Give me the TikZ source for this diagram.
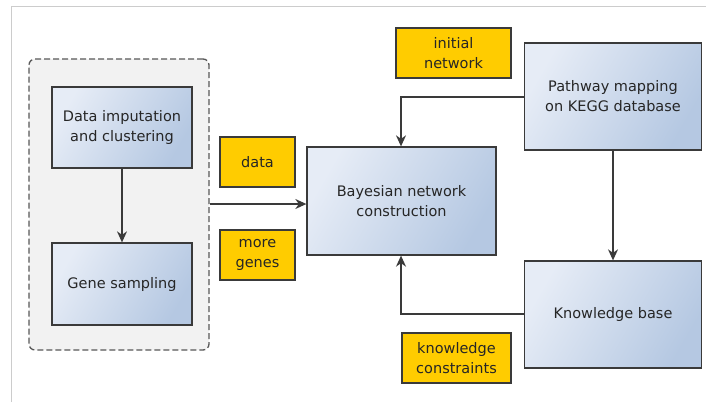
\documentclass[tikz,border=0pt]{standalone}
\usepackage{fontspec}
\setmainfont{DejaVu Sans}
\usetikzlibrary{arrows.meta,positioning}
\definecolor{boxlight}{HTML}{E6ECF6}
\definecolor{boxdark}{HTML}{B5C8E2}
\definecolor{ylw}{HTML}{FFCC00}
\definecolor{edge}{HTML}{3A3A3A}
\tikzset{
  procbox/.style={draw=edge, line width=1.3pt, left color=boxlight, right color=boxdark, shading angle=60, align=center, font=\fontsize{14.5}{20}\selectfont, text=black!85, inner sep=0pt},
  labelbox/.style={draw=edge, line width=1.3pt, fill=ylw, align=center, font=\fontsize{14.5}{20}\selectfont, text=black!85, inner sep=0pt},
  conn/.style={draw=edge, line width=1.3pt, -{Stealth[length=11pt,width=10pt,inset=3.5pt]}},
}
\begin{document}
\begin{tikzpicture}[x=1pt,y=-1pt]
\useasboundingbox (0,0) rectangle (706,402);
\fill[white] (0,0) rectangle (706,402);
\draw[gray!40, line width=1pt] (11,402) -- (11,6) -- (706,6);
% container
\node[draw=edge!85, dash pattern=on 6pt off 3pt, line width=1.3pt, fill=black!5, rounded corners=6pt, minimum width=180pt, minimum height=291pt, inner sep=0pt] (grp) at (119,204.5) {};
\node[procbox, minimum width=140pt, minimum height=81pt] (imp) at (122,127.5) {Data imputation\\ and clustering};
\node[procbox, minimum width=140pt, minimum height=82pt] (gene) at (122,284) {Gene sampling};
\node[labelbox, minimum width=75pt, minimum height=50pt] (data) at (257.5,162) {data};
\node[labelbox, minimum width=75pt, minimum height=50pt] (more) at (257.5,255) {more\\ genes};
\node[procbox, minimum width=189pt, minimum height=108pt] (bn) at (401.5,201) {Bayesian network\\ construction};
\node[labelbox, minimum width=115pt, minimum height=50pt] (init) at (453.5,53) {initial\\ network};
\node[procbox, minimum width=177pt, minimum height=107pt] (path) at (613,96.5) {Pathway mapping\\ on KEGG database};
\node[procbox, minimum width=177pt, minimum height=107pt] (kb) at (613,314.5) {Knowledge base};
\node[labelbox, minimum width=109pt, minimum height=50pt] (kc) at (456.5,358) {knowledge\\ constraints};
% connectors
\draw[conn] (imp.south) -- (gene.north);
\draw[conn] (grp.east |- 0,204) -- (bn.west |- 0,204);
\coordinate (c1) at (401,97);
\coordinate (c2) at (401,314);
\draw[conn] (path.west |- c1) -- (c1) -- (c1 |- bn.north);
\draw[conn] (path.south) -- (kb.north);
\draw[conn] (kb.west |- c2) -- (c2) -- (c2 |- bn.south);
\end{tikzpicture}
\end{document}
